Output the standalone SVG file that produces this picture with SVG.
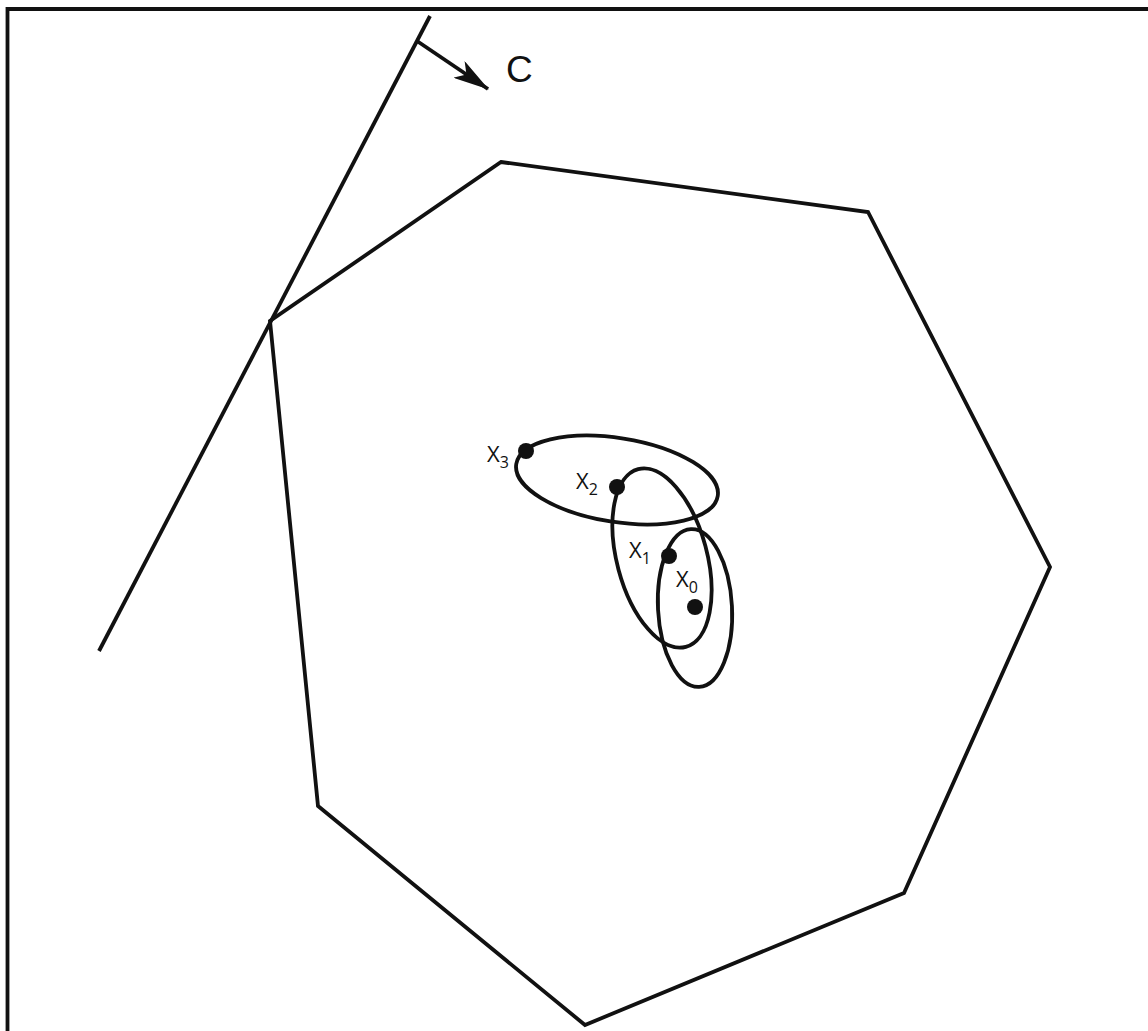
<svg xmlns="http://www.w3.org/2000/svg" width="1148" height="1031" viewBox="0 0 1148 1031">
<defs>
<style>
.ln{fill:none;stroke:#111;stroke-width:3.8;stroke-linejoin:miter}
.dot{fill:#111}
.lbl{font-family:"Open Sans","DejaVu Sans",sans-serif;fill:#111}
.big{font-family:"Liberation Sans",Arial,sans-serif;fill:#111;font-size:37px}
</style>
<marker id="ah" viewBox="0 0 36 20" refX="35" refY="10" markerWidth="36" markerHeight="20" markerUnits="userSpaceOnUse" orient="auto">
<path d="M0,0 L36,10 L0,20 L9,10 Z" fill="#111"/>
</marker>
</defs>
<rect width="1148" height="1031" fill="#fff"/>
<g id="frame"><path class="ln" d="M7.5,1031 V9 H1148"/></g>
<g id="polygon"><path class="ln" d="M501,162 L868,212 L1050,567 L904,893 L585,1025 L318,806 L270,321 Z"/></g>
<g id="connectors">
<path class="ln" d="M430,16 L99,651"/>
<path class="ln" d="M417,41 L488,89" marker-end="url(#ah)"/>
</g>
<g id="ellipses">
<ellipse class="ln" cx="617" cy="480" rx="102" ry="42" transform="rotate(9 617 480)"/>
<ellipse class="ln" cx="662" cy="558" rx="45" ry="92" transform="rotate(-15 662 558)"/>
<ellipse class="ln" cx="695" cy="608" rx="37" ry="79" transform="rotate(-3 695 608)"/>
</g>
<g id="points">
<circle class="dot" cx="526" cy="451" r="8"/>
<circle class="dot" cx="617" cy="487" r="8"/>
<circle class="dot" cx="669" cy="556" r="8"/>
<circle class="dot" cx="695" cy="607" r="8"/>
</g>
<g id="labels">
<text class="big" x="506" y="82">C</text>
<text class="lbl" x="487" y="462" font-size="22">X<tspan font-size="16" dy="6">3</tspan></text>
<text class="lbl" x="576" y="489" font-size="22">X<tspan font-size="16" dy="6">2</tspan></text>
<text class="lbl" x="629" y="558" font-size="22">X<tspan font-size="16" dy="6">1</tspan></text>
<text class="lbl" x="676" y="587" font-size="22">X<tspan font-size="16" dy="6">0</tspan></text>
</g>
</svg>
